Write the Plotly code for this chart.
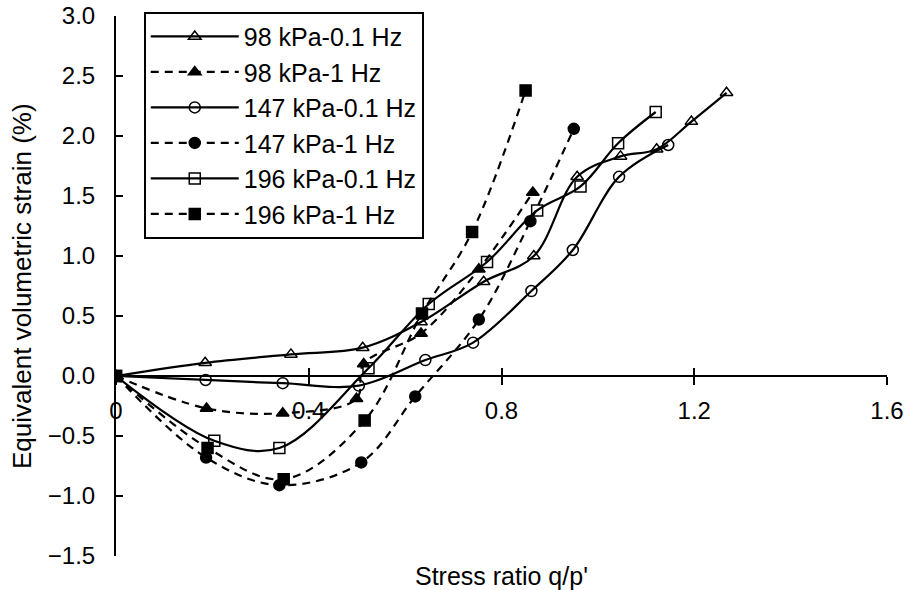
import plotly.graph_objects as go

# Stress ratio q/p' and equivalent volumetric strain (%) for each test
x_98_01 = [0, 0.185, 0.363, 0.512, 0.633, 0.763, 0.867, 0.957, 1.047, 1.122, 1.194, 1.267]
y_98_01 = [0, 0.11, 0.18, 0.236, 0.45, 0.786, 1.0, 1.66, 1.83, 1.89, 2.12, 2.36]

x_98_1 = [0, 0.188, 0.346, 0.499, 0.514, 0.633, 0.753, 0.865]
y_98_1 = [0, -0.27, -0.31, -0.19, 0.10, 0.355, 0.89, 1.53]

x_147_01 = [0, 0.186, 0.346, 0.504, 0.642, 0.741, 0.862, 0.948, 1.044, 1.146]
y_147_01 = [0, -0.033, -0.06, -0.08, 0.133, 0.278, 0.708, 1.05, 1.66, 1.925]

x_147_1 = [0, 0.187, 0.339, 0.509, 0.621, 0.753, 0.860, 0.950]
y_147_1 = [0, -0.68, -0.91, -0.72, -0.17, 0.47, 1.29, 2.06]

x_196_01 = [0, 0.204, 0.339, 0.524, 0.649, 0.770, 0.874, 0.964, 1.042, 1.120]
y_196_01 = [0, -0.54, -0.60, 0.064, 0.60, 0.95, 1.38, 1.58, 1.94, 2.20]

x_196_1 = [0, 0.190, 0.348, 0.516, 0.635, 0.739, 0.850]
y_196_1 = [0, -0.60, -0.86, -0.37, 0.52, 1.20, 2.38]

x_ticks = [0, 0.4, 0.8, 1.2, 1.6]
y_ticks = [-1.5, -1.0, -0.5, 0.0, 0.5, 1.0, 1.5, 2.0, 2.5, 3.0]

FONT = "Arial, Liberation Sans, sans-serif"
DASH = "8px,6px"

series = [
    ("98 kPa-0.1 Hz", x_98_01, y_98_01, "solid", "triangle-up-open"),
    ("98 kPa-1 Hz", x_98_1, y_98_1, DASH, "triangle-up"),
    ("147 kPa-0.1 Hz", x_147_01, y_147_01, "solid", "circle-open"),
    ("147 kPa-1 Hz", x_147_1, y_147_1, DASH, "circle"),
    ("196 kPa-0.1 Hz", x_196_01, y_196_01, "solid", "square-open"),
    ("196 kPa-1 Hz", x_196_1, y_196_1, DASH, "square"),
]

fig = go.Figure()
for name, xs, ys, dash, sym in series:
    fig.add_trace(go.Scatter(
        x=xs, y=ys, name=name, mode="lines+markers",
        line=dict(color="black", width=2.2, dash=dash, shape="spline", smoothing=1.0),
        marker=dict(symbol=sym, size=11, color="black",
                    line=dict(color="black", width=1.5)),
    ))

# companion axis that supplies the upper half of the crossing x ticks
fig.add_trace(go.Scatter(x=[], y=[], xaxis="x2", showlegend=False, hoverinfo="skip"))

y_zero_frac = (0 - y_ticks[0]) / (y_ticks[-1] - y_ticks[0])

fig.update_layout(
    width=907, height=590,
    margin=dict(l=116, r=20, t=16, b=34, autoexpand=False),
    paper_bgcolor="white", plot_bgcolor="white",
    font=dict(family=FONT, size=24, color="black"),
    showlegend=True,
    legend=dict(
        x=0.036, y=1.008, xanchor="left", yanchor="top",
        bordercolor="black", borderwidth=2, bgcolor="white",
        font=dict(family=FONT, size=25, color="black"),
        itemwidth=88,
    ),
    xaxis=dict(
        range=[x_ticks[0], x_ticks[-1]], tickvals=x_ticks,
        anchor="free", position=y_zero_frac,
        showline=True, linecolor="black", linewidth=2,
        ticks="outside", ticklen=8, tickwidth=2, tickcolor="black",
        ticklabelstandoff=5,
        showgrid=False, zeroline=False,
        tickfont=dict(family=FONT, size=24),
    ),
    xaxis2=dict(
        range=[x_ticks[0], x_ticks[-1]], tickvals=x_ticks,
        overlaying="x", anchor="free", position=y_zero_frac,
        showline=False, ticks="inside", ticklen=8, tickwidth=2, tickcolor="black",
        showticklabels=False, showgrid=False, zeroline=False,
    ),
    yaxis=dict(
        range=[y_ticks[0], y_ticks[-1]], tickvals=y_ticks, tickformat=".1f",
        domain=[0, 1],
        showline=True, linecolor="black", linewidth=2,
        ticks="inside", ticklen=7, tickwidth=2, tickcolor="black",
        ticklabelstandoff=14,
        showgrid=False, zeroline=False,
        tickfont=dict(family=FONT, size=24),
    ),
    annotations=[
        dict(text="Stress ratio q/p'", x=0.5, y=0, xref="paper", yref="paper",
             xanchor="center", yanchor="top", yshift=-4, showarrow=False,
             font=dict(family=FONT, size=25, color="black")),
        dict(text="Equivalent volumetric strain (%)", x=0, y=0.5,
             xref="paper", yref="paper", xanchor="center", yanchor="middle",
             xshift=-94, textangle=-90, showarrow=False,
             font=dict(family=FONT, size=26, color="black")),
    ],
)

fig.write_html("out.html")
